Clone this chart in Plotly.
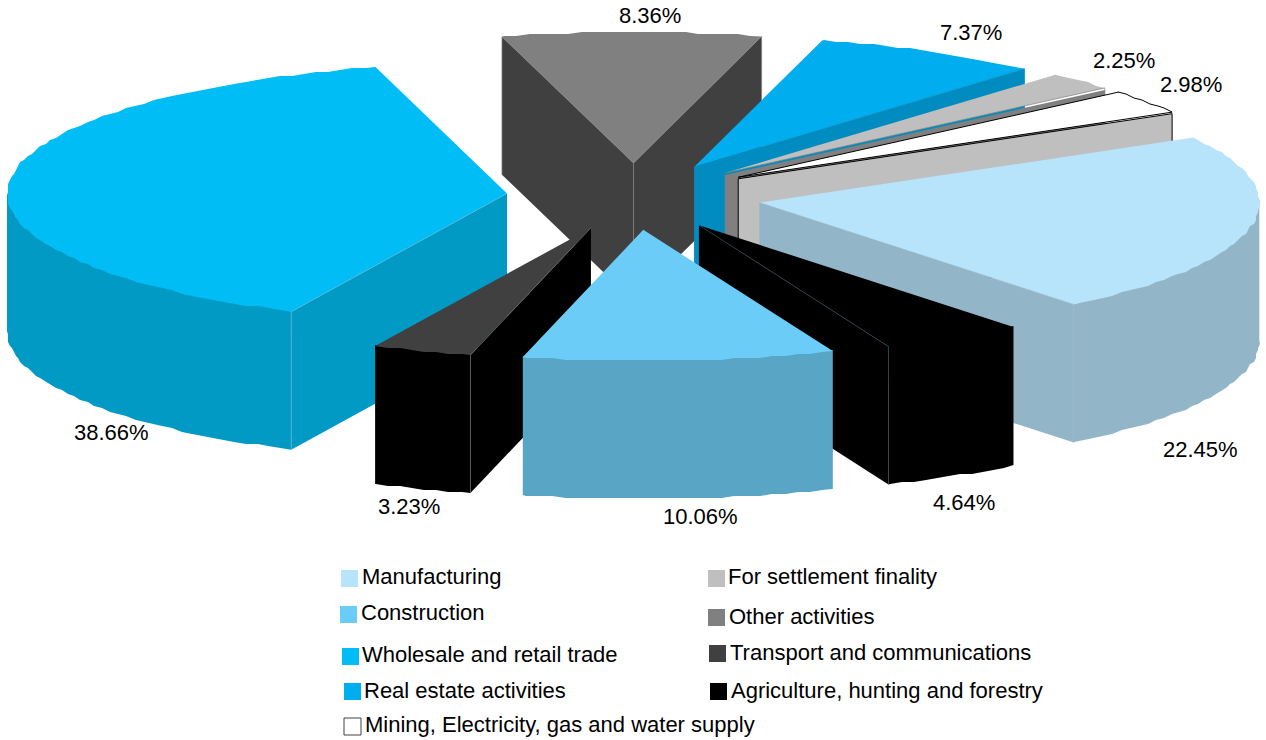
import numpy as np
import plotly.graph_objects as go

# Sector shares in drawing order (clockwise around the pie)
sectors = ["Manufacturing", "Agriculture, hunting and forestry", "Construction",
           "Transport and communications", "Wholesale and retail trade",
           "Other activities", "Real estate activities", "For settlement finality",
           "Mining, Electricity, gas and water supply"]
shares = [22.45, 4.64, 10.06, 3.23, 38.66, 8.36, 7.37, 2.25, 2.98]

top_colors = ["#b7e4fa", "#000000", "#6bcdf7", "#404040", "#00bdf5",
              "#808080", "#00aeef", "#bfbfbf", "#ffffff"]
side_colors = ["#93b5c8", "#000000", "#58a5c6", "#000000", "#009ac4",
               "#404040", "#008cc0", "#808080", "#bfbfbf"]
seam_colors = ["#93b5c8", "#3a4a55", "#58a5c6", "#666666", "#5cb4d4",
               "#808080", "#008cc0", "#808080", "#000000"]

# Back-to-front painting sequence
paint_order = ["Other activities", "Real estate activities", "For settlement finality",
               "Mining, Electricity, gas and water supply", "Wholesale and retail trade",
               "Manufacturing", "Transport and communications",
               "Agriculture, hunting and forestry", "Construction"]

# Projection of the pie onto the page, in page pixels
CX, CY = 634, 196.5
RX, RY = 500, 131
DEPTH = 138
EXPLODE = 0.255
START_ANGLE = -29.8
RIM_STEP = 1.5
RIM_GRID = 2.0
WALL_GAP = {"For settlement finality": 2.0,
            "Mining, Electricity, gas and water supply": 1.5}
OUTLINED = {"Mining, Electricity, gas and water supply"}

# Legend entries: swatch left/top, label left/centre
legend_layout = [
    ("Manufacturing", 341, 570, 359.5, 576.5),
    ("Construction", 340, 606, 358.5, 612.5),
    ("Wholesale and retail trade", 342, 648, 360, 654.5),
    ("Real estate activities", 344, 683, 362, 690.5),
    ("Mining, Electricity, gas and water supply", 344, 718, 363, 724.5),
    ("For settlement finality", 708, 570, 725.5, 576.5),
    ("Other activities", 708, 609, 726.5, 616.5),
    ("Transport and communications", 709, 645, 727.5, 652.5),
    ("Agriculture, hunting and forestry", 710, 683, 728.5, 690.5),
]
SWATCH = 17

# Value label centres on the page
label_centres = {
    "Manufacturing": (1200, 449.5), "Agriculture, hunting and forestry": (964, 502.5),
    "Construction": (700, 516.5), "Transport and communications": (409, 506.5),
    "Wholesale and retail trade": (111, 432.5), "Other activities": (650, 15.5),
    "Real estate activities": (971, 32.5), "For settlement finality": (1124, 60.5),
    "Mining, Electricity, gas and water supply": (1191, 84.5),
}

FONT = "Liberation Sans"
FONT_SIZE = 22


def arc(a0, a1, ox, oy):
    """Rim points from angle a0 to a1 (degrees), on the coarse grid of the outline."""
    inner = np.arange(np.floor(a0 / RIM_STEP) + 1, np.ceil(a1 / RIM_STEP)) * RIM_STEP
    t = np.radians(np.r_[a0, inner, a1])
    x = ox + RX * np.cos(t)
    y = oy + RY * np.sin(t)
    x[1:-1] = np.round(x[1:-1] / RIM_GRID) * RIM_GRID
    y[1:-1] = np.round(y[1:-1] / RIM_GRID) * RIM_GRID
    return x, y


def polygon(fig, x, y, fill, outline=None):
    fig.add_trace(go.Scatter(
        x=list(x) + [x[0]], y=list(y) + [y[0]], mode="lines", fill="toself",
        fillcolor=fill, hoverinfo="skip", showlegend=False,
        line=dict(color=outline or fill, width=1 if outline else 0),
    ))


def seam(fig, x, y, color):
    fig.add_trace(go.Scatter(x=x, y=y, mode="lines", hoverinfo="skip", showlegend=False,
                             line=dict(color=color, width=0.7)))


def draw_slice(fig, i, a0, a1):
    name = sectors[i]
    mid = np.radians((a0 + a1) / 2)
    ox = CX + EXPLODE * RX * np.cos(mid)
    oy = CY + EXPLODE * RY * np.sin(mid)
    side, line = side_colors[i], seam_colors[i]
    outline = "#000000" if name in OUTLINED else None
    gap = WALL_GAP.get(name, 0)

    def wall(angle):
        ex = ox + RX * np.cos(np.radians(angle))
        ey = oy + RY * np.sin(np.radians(angle))
        polygon(fig, [ox, ex, ex, ox],
                [oy + gap, ey + gap, ey + DEPTH, oy + DEPTH], side, outline)
        return ex, ey

    # Only faces turned towards the viewer are drawn
    corners = []
    if np.cos(np.radians(a0)) < 0:
        corners.append(wall(a0))
    if np.cos(np.radians(a1)) > 0:
        corners.append(wall(a1))

    # Outer rim is visible on the lower half of the ellipse
    for lo, hi in [(a0, a1), (a0 - 360, a1 - 360), (a0 + 360, a1 + 360)]:
        r0, r1 = max(lo, 0), min(hi, 180)
        if r1 > r0:
            rx, ry = arc(r0, r1, ox, oy)
            polygon(fig, np.r_[rx, rx[::-1]], np.r_[ry - 1, ry[::-1] + DEPTH], side)

    tx, ty = arc(a0, a1, ox, oy)
    polygon(fig, np.r_[ox, tx], np.r_[oy, ty], top_colors[i], outline)

    # Hairlines where neighbouring faces meet
    if not outline:
        if len(corners) == 2:
            seam(fig, [ox, ox], [oy, oy + DEPTH], line)
        for ex, ey in corners:
            seam(fig, [ex, ex], [ey, ey + DEPTH], line)
            seam(fig, [ox, ex], [oy, ey], line)
    return ox, oy


fig = go.Figure()

edges = START_ANGLE + np.r_[0, np.cumsum(shares)] * 3.6
for name in paint_order:
    i = sectors.index(name)
    draw_slice(fig, i, edges[i], edges[i + 1])

annotations = []
for name, share in zip(sectors, shares):
    lx, ly = label_centres[name]
    annotations.append(dict(x=lx, y=ly, text=f"{share:.2f}%", showarrow=False,
                            xanchor="center", yanchor="middle",
                            font=dict(family=FONT, size=FONT_SIZE, color="#000000")))

for name, sx, sy, tx, ty in legend_layout:
    i = sectors.index(name)
    outlined = name in OUTLINED
    fig.add_shape(type="rect", x0=sx, x1=sx + SWATCH, y0=sy, y1=sy + SWATCH,
                  fillcolor=top_colors[i],
                  line=dict(color="#404040" if outlined else top_colors[i],
                            width=1 if outlined else 0))
    annotations.append(dict(x=tx, y=ty, text=name, showarrow=False,
                            xanchor="left", yanchor="middle",
                            font=dict(family=FONT, size=FONT_SIZE, color="#000000")))

fig.update_layout(
    width=1266, height=740, margin=dict(l=0, r=0, t=0, b=0),
    paper_bgcolor="#ffffff", plot_bgcolor="#ffffff", showlegend=False,
    xaxis=dict(range=[0, 1266], visible=False, fixedrange=True),
    yaxis=dict(range=[740, 0], visible=False, fixedrange=True),
    annotations=annotations,
)
fig.write_html("out.html", config={"displayModeBar": False})
